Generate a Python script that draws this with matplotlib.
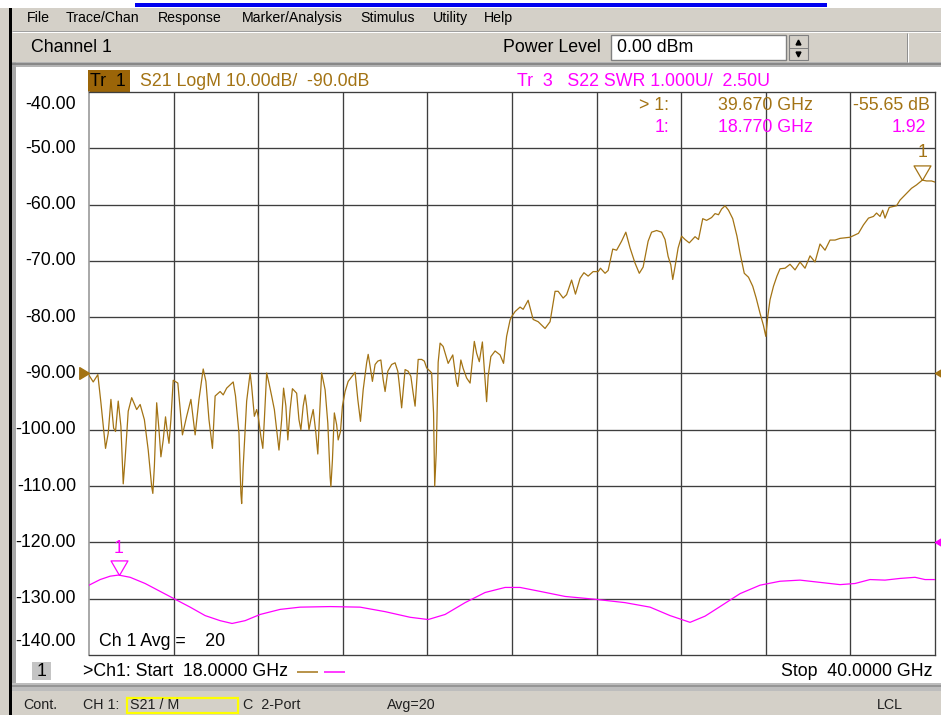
import numpy as np
import matplotlib
matplotlib.use('Agg')
import matplotlib.pyplot as plt
from matplotlib.patches import Rectangle
import matplotlib.transforms as mtransforms

plt.rcParams['font.family'] = ['Liberation Sans', 'DejaVu Sans']

# ---------------- data ----------------
s21_freq_ghz = [
    18.00, 18.11, 18.23, 18.31, 18.43, 18.50, 18.57, 18.64, 18.69, 18.76, 18.83, 18.89, 18.94,
    19.02, 19.11, 19.24, 19.33, 19.44, 19.54, 19.63, 19.66, 19.70, 19.76, 19.82, 19.87, 19.93,
    19.99, 20.04, 20.08, 20.13, 20.19, 20.31, 20.43, 20.54, 20.65, 20.76, 20.86, 20.97, 21.04,
    21.12, 21.21, 21.28, 21.41, 21.49, 21.58, 21.75, 21.81, 21.90, 21.95, 21.97, 22.01, 22.10,
    22.19, 22.23, 22.30, 22.36, 22.40, 22.47, 22.52, 22.56, 22.62, 22.68, 22.75, 22.82, 22.88,
    22.94, 23.01, 23.06, 23.12, 23.17, 23.23, 23.29, 23.40, 23.46, 23.51, 23.57, 23.62, 23.66,
    23.72, 23.77, 23.83, 23.90, 23.95, 23.99, 24.05, 24.14, 24.21, 24.27, 24.29, 24.33, 24.38,
    24.44, 24.48, 24.54, 24.59, 24.66, 24.74, 24.92, 24.99, 25.06, 25.13, 25.22, 25.26, 25.31,
    25.37, 25.44, 25.51, 25.59, 25.65, 25.70, 25.77, 25.87, 25.96, 26.03, 26.07, 26.13, 26.22,
    26.30, 26.37, 26.43, 26.48, 26.56, 26.65, 26.72, 26.78, 26.87, 26.91, 26.96, 26.99, 27.03,
    27.08, 27.13, 27.21, 27.34, 27.46, 27.56, 27.59, 27.67, 27.73, 27.82, 27.91, 27.98, 28.02,
    28.08, 28.15, 28.23, 28.27, 28.34, 28.38, 28.45, 28.56, 28.69, 28.78, 28.86, 28.95, 28.99,
    29.08, 29.21, 29.29, 29.42, 29.55, 29.68, 29.86, 29.99, 30.12, 30.20, 30.33, 30.42, 30.55,
    30.65, 30.77, 30.87, 30.98, 31.11, 31.24, 31.30, 31.42, 31.50, 31.62, 31.72, 31.85, 31.96,
    32.07, 32.20, 32.31, 32.41, 32.54, 32.63, 32.76, 32.89, 32.98, 33.06, 33.13, 33.18, 33.24,
    33.32, 33.41, 33.50, 33.61, 33.76, 33.85, 33.96, 34.06, 34.19, 34.28, 34.37, 34.45, 34.54,
    34.63, 34.74, 34.85, 34.93, 35.04, 35.15, 35.26, 35.35, 35.45, 35.54, 35.60, 35.65, 35.71,
    35.80, 35.89, 35.97, 36.10, 36.23, 36.36, 36.49, 36.62, 36.75, 36.88, 37.01, 37.14, 37.27,
    37.40, 37.53, 37.79, 38.01, 38.14, 38.27, 38.40, 38.48, 38.57, 38.64, 38.70, 38.81, 39.00,
    39.09, 39.26, 39.39, 39.52, 39.67, 39.78, 39.91, 40.00,
]
s21_db = [
    -90.3, -91.5, -90.2, -95.2, -103.3, -100.6, -94.6, -99.7, -100.3, -94.9, -99.4, -109.6, -105.1,
    -96.7, -94.3, -96.4, -95.5, -98.2, -103.6, -110.1, -111.3, -106.5, -95.2, -100.0, -104.8, -101.8,
    -97.7, -100.6, -102.4, -98.2, -91.2, -91.7, -100.9, -97.6, -94.6, -100.9, -94.6, -89.2, -91.4,
    -98.2, -103.3, -94.0, -93.2, -93.8, -92.6, -91.5, -94.0, -100.6, -111.3, -113.1, -106.5, -94.9,
    -89.9, -92.3, -97.6, -96.4, -97.6, -101.2, -103.3, -98.2, -89.9, -91.7, -94.0, -96.4, -100.0,
    -103.6, -98.2, -92.6, -95.8, -101.8, -96.4, -92.7, -93.5, -98.2, -100.0, -95.8, -93.8, -95.8,
    -100.0, -98.2, -96.4, -100.6, -104.3, -98.2, -89.9, -92.9, -98.8, -108.3, -110.1, -105.4, -97.0,
    -99.1, -101.8, -100.3, -95.8, -93.2, -91.4, -89.8, -94.6, -98.5, -92.9, -88.1, -86.6, -88.7,
    -91.4, -88.4, -87.8, -87.6, -91.1, -93.2, -89.6, -88.4, -88.1, -89.6, -92.0, -96.1, -89.3,
    -89.6, -90.5, -93.5, -95.8, -87.5, -87.5, -87.8, -89.0, -89.6, -89.9, -97.0, -110.0, -104.0,
    -88.0, -84.6, -85.2, -88.2, -86.7, -91.7, -92.3, -87.6, -89.1, -90.8, -91.7, -87.0, -84.3,
    -86.4, -87.9, -84.4, -88.2, -95.0, -90.5, -87.0, -86.0, -86.7, -88.2, -83.4, -80.5, -79.9,
    -79.0, -78.2, -78.6, -77.0, -80.4, -80.8, -82.0, -80.8, -75.4, -75.4, -76.6, -76.0, -73.4,
    -75.9, -73.1, -72.1, -72.7, -71.9, -71.9, -71.3, -72.2, -71.7, -67.9, -68.1, -66.5, -64.9,
    -67.7, -70.4, -72.2, -71.1, -66.5, -64.9, -64.6, -64.9, -66.2, -69.2, -70.7, -73.3, -71.0,
    -67.7, -65.6, -66.2, -66.8, -65.7, -66.2, -62.5, -62.8, -62.3, -61.6, -61.8, -60.8, -60.2,
    -61.0, -62.5, -65.6, -68.6, -72.2, -72.9, -74.5, -76.6, -79.3, -81.5, -83.4, -79.9, -76.9,
    -74.5, -72.7, -71.4, -71.3, -70.6, -71.6, -70.2, -71.3, -69.1, -70.2, -67.0, -68.1, -66.3,
    -66.3, -66.0, -65.8, -65.1, -63.6, -62.4, -62.1, -61.5, -62.1, -61.0, -62.4, -60.5, -60.2,
    -59.2, -58.0, -57.1, -56.5, -55.65, -55.8, -55.8, -56.0,
]

s22_freq_ghz = [
    18.00, 18.29, 18.55, 18.77, 19.07, 19.46, 19.85, 20.24, 20.63, 21.02, 21.41, 21.72, 22.06,
    22.45, 22.97, 23.49, 24.27, 25.05, 25.70, 26.35, 26.82, 27.26, 27.78, 28.30, 28.82, 29.21,
    29.73, 30.38, 31.16, 31.94, 32.59, 33.11, 33.63, 34.02, 34.41, 34.93, 35.45, 35.97, 36.49,
    37.01, 37.53, 37.92, 38.31, 38.70, 39.09, 39.48, 39.74, 40.00,
]
s22_swr = [
    1.74, 1.84, 1.90, 1.92, 1.88, 1.77, 1.63, 1.49, 1.35, 1.20, 1.11, 1.06, 1.11,
    1.22, 1.31, 1.35, 1.36, 1.35, 1.27, 1.17, 1.13, 1.22, 1.43, 1.61, 1.70, 1.70,
    1.63, 1.54, 1.49, 1.43, 1.35, 1.20, 1.08, 1.19, 1.36, 1.59, 1.74, 1.81, 1.83,
    1.79, 1.75, 1.77, 1.84, 1.83, 1.86, 1.88, 1.84, 1.84,
]

y_ticks_db = [-40, -50, -60, -70, -80, -90, -100, -110, -120, -130, -140]
y_tick_labels = ['-40.00', '-50.00', '-60.00', '-70.00', '-80.00', '-90.00', '-100.00',
                 '-110.00', '-120.00', '-130.00', '-140.00']
start_ghz, stop_ghz, n_xdiv = 18.0, 40.0, 10
s21_ref_db, s21_scale = -90.0, 10.0
s22_ref_swr, s22_scale, s22_ref_div = 2.50, 1.0, 2
mk_s21_f, mk_s21_v = 39.670, -55.65
mk_s22_f, mk_s22_v = 18.770, 1.92

menu_items = ['File', 'Trace/Chan', 'Response', 'Marker/Analysis', 'Stimulus', 'Utility', 'Help']

# ---------------- styles ----------------
BROWN = '#a37314'
BROWN_BOX = '#9b6508'
MAG = '#ff00ff'
GRID = '#3e3e3e'
UI = '#d4d0c8'
FS = 12.8

W, H = 941, 715
fig = plt.figure(figsize=(W / 100, H / 100), dpi=100)
fig.patch.set_facecolor(UI)

bg = fig.add_axes([0, 0, 1, 1], zorder=-2)
bg.set_xlim(0, W); bg.set_ylim(H, 0); bg.axis('off')
ov = fig.add_axes([0, 0, 1, 1], zorder=5)
ov.set_xlim(0, W); ov.set_ylim(H, 0); ov.axis('off'); ov.patch.set_alpha(0)


def rect(a, x0, y0, x1, y1, fc, ec='none', lw=0.0, z=1):
    a.add_patch(Rectangle((x0, y0), x1 - x0, y1 - y0, facecolor=fc, edgecolor=ec,
                          linewidth=lw, zorder=z))


def line(a, xs, ys, c, lw=1.0, z=2):
    a.plot(xs, ys, color=c, lw=lw * 0.72, solid_capstyle='butt', zorder=z)


# window chrome
rect(bg, 0, 0, W, 8, 'white')
rect(bg, 135, 3, 827, 7, '#0000f0')
rect(bg, 9, 8, 12, H, 'black')
line(bg, [12, W], [31, 31], '#a0a0a0')
line(bg, [12, W], [32, 32], 'white')
menu_x = [27, 66, 158, 242, 360, 433, 484]
for mx, mt in zip(menu_x, menu_items):
    bg.text(mx, 18, mt, fontsize=10.2, va='center', ha='left', color='black')

bg.text(31, 48, 'Channel 1', fontsize=FS, va='center', ha='left', color='black')
bg.text(503, 47, 'Power Level', fontsize=FS, va='center', ha='left', color='black')
rect(bg, 611, 35, 786, 60, 'white', ec='#808080', lw=1.0)
bg.text(617, 47.5, '0.00 dBm', fontsize=FS, va='center', ha='left', color='black')
rect(bg, 789, 35, 808, 60, UI, ec='#808080', lw=0.8)
line(bg, [789, 808], [47.5, 47.5], '#808080')
bg.plot([798.5], [41.5], marker='^', ms=3.5, color='black', zorder=3)
bg.plot([798.5], [53.5], marker='v', ms=3.5, color='black', zorder=3)
line(bg, [907, 907], [33, 62], '#909090')
line(bg, [908, 908], [33, 62], 'white')

# chart window
rect(bg, 12, 62, W, 67, '#b4b4b4')
line(bg, [12, W], [63.5, 63.5], '#7a7a7a', lw=1.5)
rect(bg, 12, 62, 16, 690, '#a8a8a8')
rect(bg, 16, 67, W, 683, 'white')
rect(bg, 12, 683, W, 691, '#bdbdbd')
line(bg, [12, W], [686, 686], '#8a8a8a', lw=1.5)

# status bar
SFS = 10.3
bg.text(23, 705, 'Cont.', fontsize=SFS, va='center', ha='left', color='#202020')
bg.text(83, 705, 'CH 1:', fontsize=SFS, va='center', ha='left', color='#202020')
rect(bg, 127, 697.5, 238.5, 713, 'none', ec='#ffff00', lw=1.6, z=3)
bg.text(130, 705, 'S21 / M', fontsize=SFS, va='center', ha='left', color='#202020')
bg.text(243, 705, 'C  2-Port', fontsize=SFS, va='center', ha='left', color='#202020')
bg.text(387, 705, 'Avg=20', fontsize=SFS, va='center', ha='left', color='#202020')
bg.text(877, 705, 'LCL', fontsize=SFS, va='center', ha='left', color='#202020')

# bottom row of chart window
rect(bg, 32, 662, 51, 680, '#c4c4c4')
bg.text(41.5, 671, '1', fontsize=FS, va='center', ha='center', color='black')
bg.text(83, 672, '>Ch1: Start  18.0000 GHz', fontsize=FS, va='center', ha='left', color='black')
line(bg, [297, 318], [672, 672], BROWN, lw=1.5)
line(bg, [324, 345], [672, 672], MAG, lw=1.5)
bg.text(933, 672, 'Stop  40.0000 GHz', fontsize=FS, va='center', ha='right', color='black')

# trace title row
rect(bg, 88, 70, 130, 92, BROWN_BOX)
bg.text(90, 81, 'Tr  1', fontsize=FS, va='center', ha='left', color='black')
bg.text(140, 81, 'S21 LogM 10.00dB/  -90.0dB', fontsize=FS, va='center', ha='left', color=BROWN)
bg.text(517, 81, 'Tr  3   S22 SWR 1.000U/  2.50U', fontsize=FS, va='center', ha='left', color=MAG)

# ---------------- plot ----------------
x0p, x1p, y0p, y1p = 89, 935, 92, 655
ax = fig.add_axes([x0p / W, (H - y1p) / H, (x1p - x0p) / W, (y1p - y0p) / H], zorder=1)
ax.set_facecolor('white')
ax.set_xlim(start_ghz, stop_ghz)
ax.set_ylim(s21_ref_db - 5 * s21_scale, s21_ref_db + 5 * s21_scale)
xdiv = np.linspace(start_ghz, stop_ghz, n_xdiv + 1)
ax.set_xticks(xdiv[1:-1])
ax.set_yticks(y_ticks_db[1:-1])
ax.grid(True, color=GRID, lw=0.95)
ax.tick_params(length=0, labelleft=False, labelbottom=False)
for s in ['top', 'right', 'bottom']:
    ax.spines[s].set_color(GRID); ax.spines[s].set_linewidth(0.95)
ax.spines['left'].set_color('#9a9a9a'); ax.spines['left'].set_linewidth(1.2)

ytr = ax.get_yaxis_transform()
for i, (v, lab) in enumerate(zip(y_ticks_db, y_tick_labels)):
    dy = 0
    if i == 0:
        dy = -13
    elif i == len(y_ticks_db) - 1:
        dy = 13
    tr = mtransforms.offset_copy(ytr, fig=fig, x=-13, y=dy, units='dots')
    ax.text(0, v, lab, transform=tr, ha='right', va='center', fontsize=FS, color='black',
            clip_on=False)

ax.plot(s21_freq_ghz, s21_db, color=BROWN, lw=0.9, zorder=3)

ax2 = ax.twinx()
ax2.set_ylim(s22_ref_swr - s22_ref_div * s22_scale, s22_ref_swr + (10 - s22_ref_div) * s22_scale)
ax2.set_yticks([])
ax2.tick_params(length=0, labelleft=False, labelright=False, labelbottom=False)
for s in ax2.spines.values():
    s.set_visible(False)
ax2.plot(s22_freq_ghz, s22_swr, color=MAG, lw=0.9, zorder=3)

# markers (tip at the data point)
tri_down = [(0, 0), (-0.58, 1), (0.58, 1), (0, 0)]
ax.plot([mk_s21_f], [mk_s21_v], linestyle='none', marker=tri_down, ms=21, mfc='none',
        mec=BROWN, mew=0.9, clip_on=False, zorder=4)
ax.annotate('1', xy=(mk_s21_f, mk_s21_v), xytext=(0, 28), textcoords='offset pixels',
            ha='center', va='center', fontsize=FS, color=BROWN)
ax2.plot([mk_s22_f], [mk_s22_v], linestyle='none', marker=tri_down, ms=21, mfc='none',
         mec=MAG, mew=0.9, clip_on=False, zorder=4)
ax2.annotate('1', xy=(mk_s22_f, mk_s22_v), xytext=(0, 27), textcoords='offset pixels',
             ha='center', va='center', fontsize=FS, color=MAG)

# reference level arrows
tri_right = [(0, 0), (-1, 0.6), (-1, -0.6), (0, 0)]
tri_left = [(0, 0), (1, 0.6), (1, -0.6), (0, 0)]
ax.plot([0], [s21_ref_db], transform=ax.get_yaxis_transform(), marker=tri_right, ms=14,
        color=BROWN, linestyle='none', clip_on=False, zorder=6)
ax.plot([1], [s21_ref_db], transform=ax.get_yaxis_transform(), marker=tri_left, ms=14,
        color=BROWN, linestyle='none', clip_on=False, zorder=6)
ax2.plot([1], [s22_ref_swr], transform=ax2.get_yaxis_transform(), marker=tri_left, ms=14,
         color=MAG, linestyle='none', clip_on=False, zorder=6)

# marker readouts
ov.text(669, 105, '> 1:', fontsize=FS, ha='right', va='center', color=BROWN)
ov.text(813, 105, f'{mk_s21_f:.3f} GHz', fontsize=FS, ha='right', va='center', color=BROWN)
ov.text(930, 105, f'{mk_s21_v:.2f} dB', fontsize=FS, ha='right', va='center', color=BROWN)
ov.text(669, 128, '1:', fontsize=FS, ha='right', va='center', color=MAG)
ov.text(813, 128, f'{mk_s22_f:.3f} GHz', fontsize=FS, ha='right', va='center', color=MAG)
ov.text(926, 128, f'{mk_s22_v:.2f}', fontsize=FS, ha='right', va='center', color=MAG)
ov.text(99, 642, 'Ch 1 Avg =    20', fontsize=FS, ha='left', va='center', color='black')

fig.savefig('out.png', dpi=100, facecolor=fig.get_facecolor())
